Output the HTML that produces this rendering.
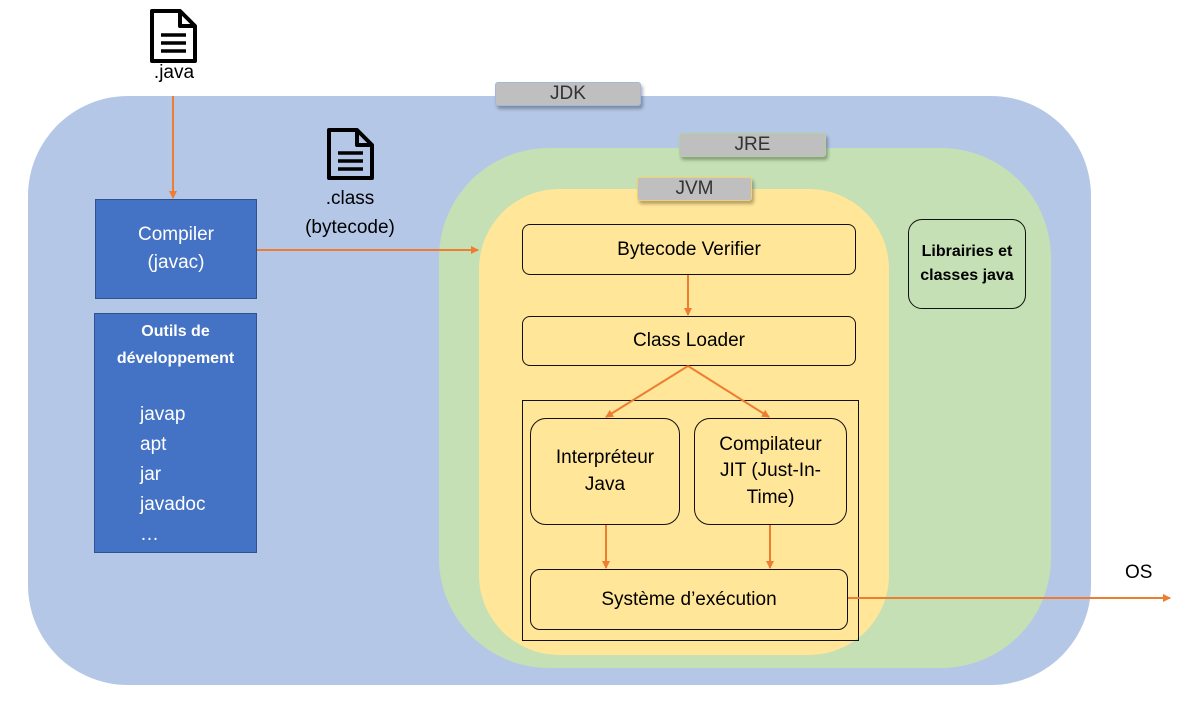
<!DOCTYPE html>
<html><head><meta charset="utf-8"><style>
body{margin:0;width:1179px;height:703px;background:#fff;position:relative;overflow:hidden;font-family:"Liberation Sans",sans-serif;}
div{position:absolute;box-sizing:border-box;}
.c{display:flex;align-items:center;justify-content:center;text-align:center;}
.lbl{background:#bfbfbf;color:#333;font-size:19px;box-shadow:2px 3px 3px rgba(0,0,0,.3);border-radius:3px;}
.y{background:#ffe699;border:1.3px solid #111;color:#000;font-size:19px;}
.t{color:#000;font-size:19px;}
</style></head><body>
<div style="left:28px;top:96px;width:1063px;height:589px;background:#b4c7e7;border-radius:100px;"></div>
<div style="left:439px;top:148px;width:612px;height:520px;background:#c5e0b4;border-radius:110px;"></div>
<div style="left:479px;top:189px;width:410px;height:466px;background:#ffe699;border-radius:80px;"></div>
<div class="lbl c" style="left:495px;top:82px;width:146px;height:24px;border:1px solid #9fb8e0;">JDK</div>
<div class="lbl c" style="left:679px;top:133px;width:147px;height:24px;border:1px solid #b0d39a;">JRE</div>
<div class="lbl c" style="left:637px;top:177px;width:115px;height:24px;border:1px solid #f0d070;">JVM</div>
<div class="y c" style="left:522px;top:224px;width:334px;height:51px;border-radius:8px;">Bytecode Verifier</div>
<div class="y c" style="left:522px;top:316px;width:334px;height:50px;border-radius:8px;">Class Loader</div>
<div style="left:522px;top:400px;width:337px;height:241px;border:1.3px solid #111;"></div>
<div class="y c" style="left:530px;top:418px;width:150px;height:107px;border-radius:16px;line-height:1.4;">Interpréteur<br>Java</div>
<div class="y c" style="left:694px;top:418px;width:153px;height:107px;border-radius:16px;line-height:1.4;">Compilateur<br>JIT (Just-In-<br>Time)</div>
<div class="y c" style="left:530px;top:569px;width:318px;height:61px;border-radius:10px;">Système d’exécution</div>
<div class="c" style="left:908px;top:219px;width:118px;height:90px;background:#c5e0b4;border:1.3px solid #111;border-radius:14px;font-size:16px;font-weight:bold;line-height:1.5;">Librairies et<br>classes java</div>
<div class="c" style="left:95px;top:199px;width:162px;height:100px;background:#4472c4;border:1px solid #2f528f;color:#fff;font-size:19px;line-height:1.45;">Compiler<br>(javac)</div>
<div style="left:94px;top:313px;width:163px;height:240px;background:#4472c4;border:1px solid #2f528f;color:#fff;">
<div style="left:0;top:4px;width:161px;text-align:center;font-weight:bold;font-size:16px;line-height:27px;">Outils de<br>développement</div>
<div style="left:45px;top:86px;font-size:19px;line-height:30px;">javap<br>apt<br>jar<br>javadoc<br>…</div>
</div>
<div class="t" style="left:139px;top:62px;width:70px;text-align:center;">.java</div>
<div class="t" style="left:290px;top:184px;width:120px;text-align:center;line-height:29px;">.class<br>(bytecode)</div>
<div class="t" style="left:1125px;top:562px;">OS</div>
<svg width="1179" height="703" style="position:absolute;left:0;top:0">
<defs><marker id="a" markerWidth="8" markerHeight="8" refX="7" refY="4" orient="auto" markerUnits="userSpaceOnUse"><path d="M0,0L8,4L0,8z" fill="#ed7d31"/></marker></defs>
<g fill="none" stroke="#000" stroke-width="4" stroke-linejoin="round">
<path d="M152,11H180L195,26V61H152Z"/><path d="M180,11V26H195"/>
<path d="M161,35H186M161,43H186M161,51H186" stroke-width="3.5"/>
<path d="M329,130H357L372,145V178H329Z"/><path d="M357,130V145H372"/>
<path d="M338,153H363M338,161H363M338,169H363" stroke-width="3.5"/>
</g>
<g stroke="#ed7d31" stroke-width="2" fill="none" marker-end="url(#a)">
<line x1="173" y1="96" x2="173" y2="198"/>
<line x1="257" y1="250" x2="478" y2="250"/>
<line x1="688" y1="275" x2="688" y2="315"/>
<line x1="688" y1="366" x2="606" y2="417"/>
<line x1="688" y1="366" x2="769" y2="417"/>
<line x1="606" y1="525" x2="606" y2="568"/>
<line x1="770" y1="525" x2="770" y2="568"/>
<line x1="848" y1="598" x2="1170" y2="598"/>
</g>
</svg>
</body></html>
